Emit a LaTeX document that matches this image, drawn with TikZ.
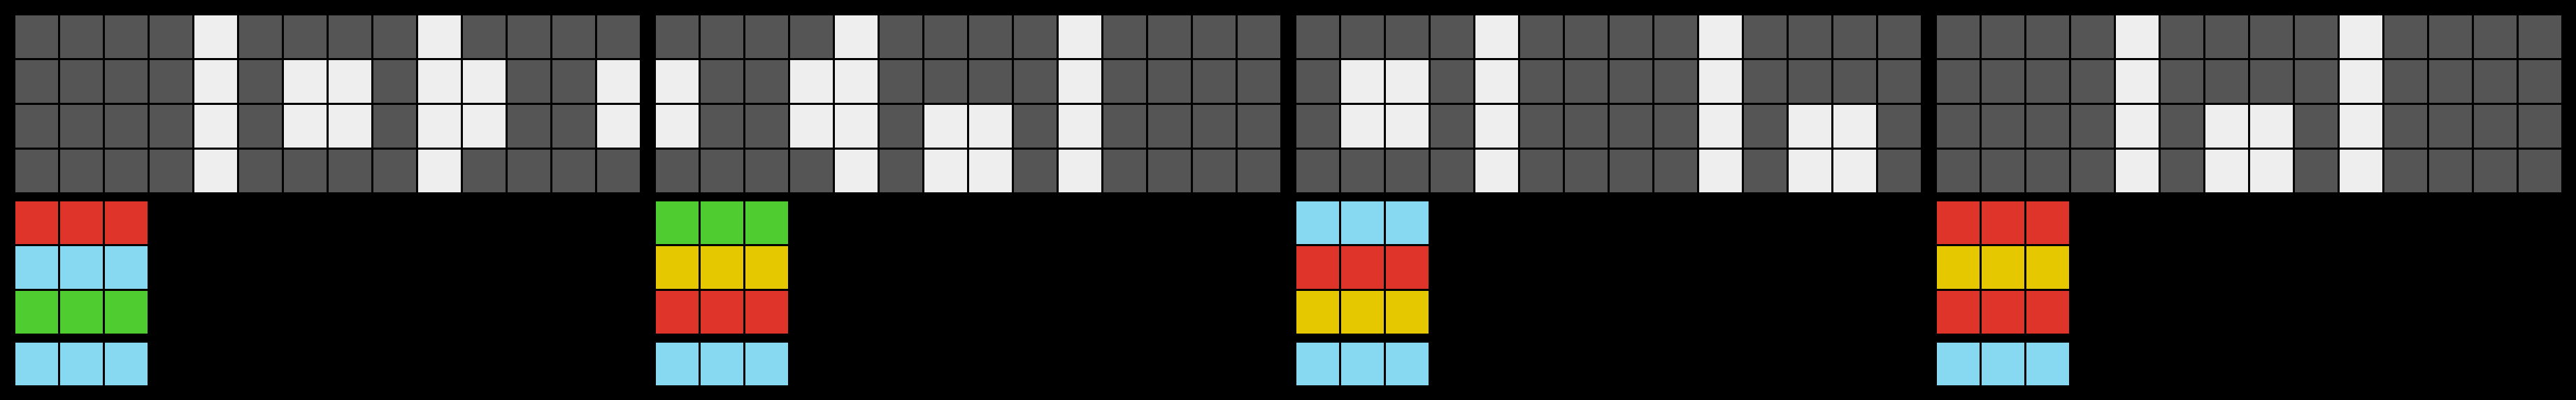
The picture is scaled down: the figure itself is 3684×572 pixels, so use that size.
\documentclass[tikz,border=0pt]{standalone}

\definecolor{cellgray}{HTML}{555555}
\definecolor{cellwhite}{HTML}{EEEEEE}
\definecolor{cellred}{HTML}{DF3429}
\definecolor{cellgreen}{HTML}{4FCC30}
\definecolor{cellyellow}{HTML}{E5C800}
\definecolor{cellsky}{HTML}{87D8F1}

\begin{document}
\begin{tikzpicture}[x=0.1mm, y=-0.1mm]

    \fill[black] (0,0) rectangle (3684,572);
    \useasboundingbox (0,0) rectangle (3684,572);

    % top grids, all gray first
    \foreach \p in {0,...,3}
        \foreach \c in {0,...,13}
            \foreach \r in {0,...,3}
                \fill[cellgray] (22+916*\p+64*\c, 22+64*\r) rectangle ++(61,61);

    % white cells: the two bars, then the squares
    \foreach \p in {0,...,3}
        \foreach \c in {4,9}
            \foreach \r in {0,...,3}
                \fill[cellwhite] (22+916*\p+64*\c, 22+64*\r) rectangle ++(61,61);

    \foreach \p/\cells in {0/{6/1,7/1,10/1,13/1,6/2,7/2,10/2,13/2},
                           1/{0/1,3/1,0/2,3/2,6/2,7/2,6/3,7/3},
                           2/{1/1,2/1,1/2,2/2,11/2,12/2,11/3,12/3},
                           3/{6/2,7/2,6/3,7/3}}
        \foreach \c/\r in \cells
            \fill[cellwhite] (22+916*\p+64*\c, 22+64*\r) rectangle ++(61,61);

    % colour stacks
    \foreach \p/\ca/\cb/\cc in {0/cellred/cellsky/cellgreen,
                                1/cellgreen/cellyellow/cellred,
                                2/cellsky/cellred/cellyellow,
                                3/cellred/cellyellow/cellred}
        \foreach \c in {0,1,2} {
            \fill[\ca] (22+916*\p+64*\c, 288) rectangle ++(61,61);
            \fill[\cb] (22+916*\p+64*\c, 352) rectangle ++(61,61);
            \fill[\cc] (22+916*\p+64*\c, 416) rectangle ++(61,61);
            \fill[cellsky] (22+916*\p+64*\c, 490) rectangle ++(61,61);
        }

\end{tikzpicture}
\end{document}
